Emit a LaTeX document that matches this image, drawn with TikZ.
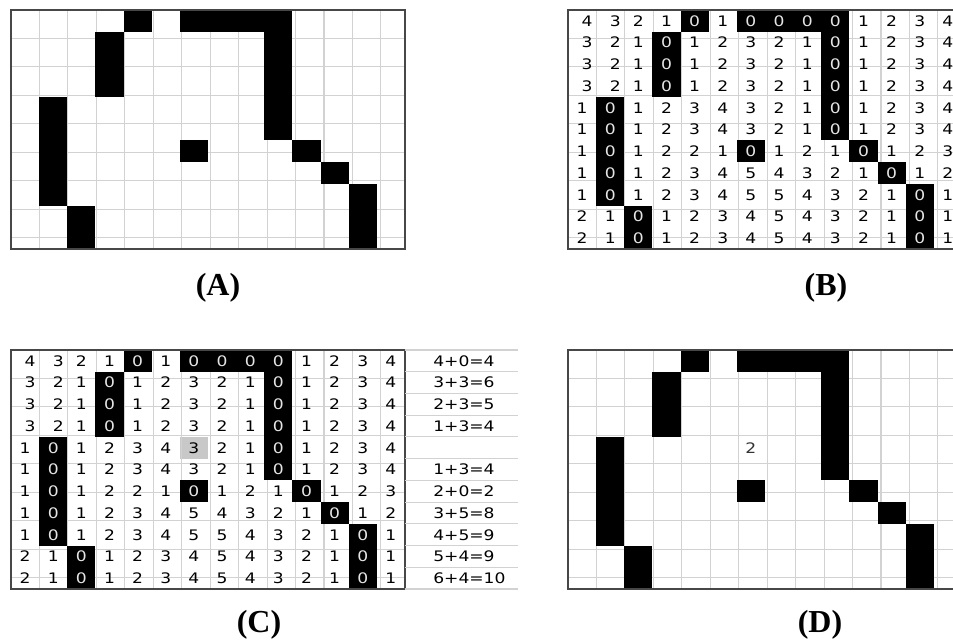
\documentclass[tikz,border=0pt]{standalone}
\usepackage{fontspec}
\setmainfont{Liberation Serif}
\newfontfamily\cellfont[FakeStretch=1.18]{DejaVu Sans}
\usetikzlibrary{positioning}
\definecolor{gridgray}{HTML}{D2D2D2}
\definecolor{edge}{HTML}{474747}
\definecolor{seen}{HTML}{C8C8C8}
\definecolor{zerotext}{HTML}{E4E4E4}

\def\distmap{{4,3,2,1,0,1,0,0,0,0,1,2,3,4},
  {3,2,1,0,1,2,3,2,1,0,1,2,3,4},
  {3,2,1,0,1,2,3,2,1,0,1,2,3,4},
  {3,2,1,0,1,2,3,2,1,0,1,2,3,4},
  {1,0,1,2,3,4,3,2,1,0,1,2,3,4},
  {1,0,1,2,3,4,3,2,1,0,1,2,3,4},
  {1,0,1,2,2,1,0,1,2,1,0,1,2,3},
  {1,0,1,2,3,4,5,4,3,2,1,0,1,2},
  {1,0,1,2,3,4,5,5,4,3,2,1,0,1},
  {2,1,0,1,2,3,4,5,4,3,2,1,0,1},
  {2,1,0,1,2,3,4,5,4,3,2,1,0,1}}

% grid with the black pixels (the zeros of the map)
\newcommand{\board}{%
  \draw[gridln] (0,0) grid (14,11);
  \foreach \vals [count=\row from 0] in \distmap {
    \foreach \v [count=\col from 0] in \vals {
      \ifnum\v=0 \fill (\col,\row) rectangle ++(1,1); \fi
    }
  }
  \draw[frame] (0,0) rectangle (14,11);
}

% distance values written into the cells
\newcommand{\dists}[1]{%
  \foreach \vals [count=\row from 0] in \distmap {
    \foreach \v [count=\col from 0] in \vals {
      \ifnum\v=0 \def\numcol{zerotext}\else\def\numcol{black}\fi
      \pgfmathsetmacro\dx{(\row<4)*(\col<2)*5}
      \node[num,text=\numcol,xshift=\dx pt] (#1-\row-\col) at (\col+.5,\row+.5) {\v};
    }
  }
}

\begin{document}
\begin{tikzpicture}[x=1pt,y=-1pt,
    gridln/.style={gridgray,line width=1.1pt},
    frame/.style={edge,line width=1.1pt},
    cell/.style={x=28.14pt,y=-21.73pt},
    num/.style={font=\cellfont\fontsize{14.5}{15}\selectfont,inner sep=0pt,
                text height=10.6pt,text depth=0pt},
    panellabel/.style={font=\bfseries\fontsize{32}{34}\selectfont,inner sep=0pt}]
  \useasboundingbox (0,0) rectangle (953,644);
  \clip (0,0) rectangle (953,644);

  \begin{scope}[shift={(11,10)},cell]
    \board
  \end{scope}

  \begin{scope}[shift={(568,10)},cell]
    \board
    \dists{b}
  \end{scope}

  \begin{scope}[shift={(11,350)},cell]
    \fill[seen] (6,4) rectangle (7,5);
    \board
    \foreach \row in {0,...,11}
      \draw[gridln] (14,\row) -- (18,\row);
    \dists{c}
    \foreach \row/\eq in {0/4+0=4,1/3+3=6,2/2+3=5,3/1+3=4,5/1+3=4,
        6/2+0=2,7/3+5=8,8/4+5=9,9/5+4=9,10/6+4=10}
      \node[num,anchor=west] (eq-\row) at (15,\row+.5) {\eq};
  \end{scope}

  \begin{scope}[shift={(568,350)},cell]
    \board
    \node[num,text=black!80] (d-mid) at (6.5,4.5) {2};
  \end{scope}

  \node[panellabel] (labA) at (218,288) {(A)};
  \node[panellabel] (labB) at (826,288) {(B)};
  \node[panellabel] (labC) at (259,625) {(C)};
  \node[panellabel] (labD) at (820,625) {(D)};
\end{tikzpicture}
\end{document}
